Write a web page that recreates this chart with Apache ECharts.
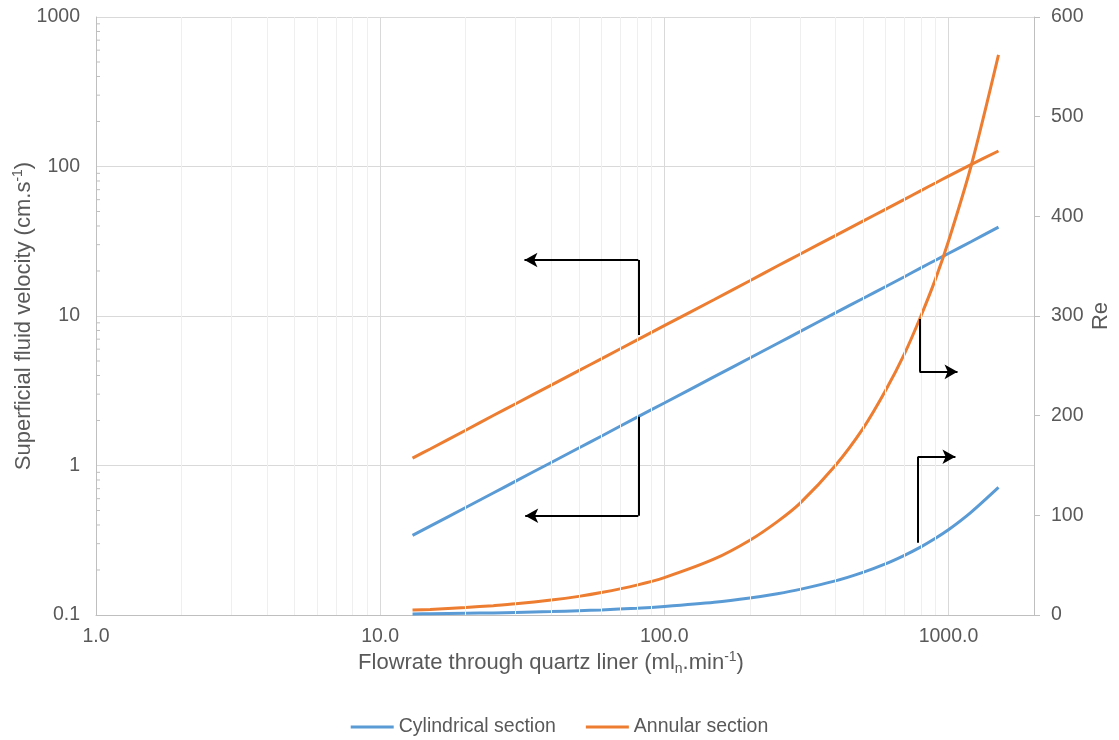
<!DOCTYPE html>
<html>
<head>
<meta charset="utf-8">
<style>
  html, body { margin: 0; padding: 0; background: #fff; }
  #main { width: 1119px; height: 740px; }
</style>
<script src="https://cdn.jsdelivr.net/npm/echarts@6/dist/echarts.min.js"></script>
</head>
<body>
<div id="main"></div>
<script>
// flowrate (ml_n/min)
var flowrate = [13, 15, 20, 25, 30, 40, 50, 60, 80, 100, 150, 200, 250, 300, 400, 500, 600, 700, 800, 900, 1000, 1200, 1500];
// superficial velocity (cm/s), left log axis
var velCyl = [0.341, 0.393, 0.524, 0.655, 0.786, 1.048, 1.31, 1.57, 2.10, 2.62, 3.93, 5.24, 6.55, 7.86, 10.5, 13.1, 15.7, 18.3, 21.0, 23.6, 26.2, 31.4, 39.3];
var velAnn = [1.12, 1.29, 1.72, 2.16, 2.59, 3.45, 4.31, 5.17, 6.90, 8.62, 12.9, 17.2, 21.6, 25.9, 34.5, 43.1, 51.7, 60.3, 69.0, 77.6, 86.2, 103, 127];
// Reynolds number, right axis
var reCyl = [1.1, 1.3, 1.7, 2.1, 2.6, 3.4, 4.3, 5.1, 6.8, 8.6, 12.8, 17.1, 21.4, 25.7, 34.2, 42.8, 51.3, 59.9, 68.4, 77, 85.5, 103, 128];
var reAnn = [4.9, 5.6, 7.5, 9.4, 11.2, 15, 18.7, 22.5, 30, 37.5, 56.2, 75, 93.7, 112, 150, 187, 225, 262, 300, 337, 375, 450, 562];

var seriesNames = ['Cylindrical section', 'Annular section'];
var reTicks = [0, 100, 200, 300, 400, 500, 600];

// minor grid / tick positions on the log axes
var minorX = [2, 3, 4, 5, 6, 7, 8, 9, 20, 30, 40, 50, 60, 70, 80, 90, 200, 300, 400, 500, 600, 700, 800, 900];
var minorY = [0.2, 0.3, 0.4, 0.5, 0.6, 0.7, 0.8, 0.9, 2, 3, 4, 5, 6, 7, 8, 9, 20, 30, 40, 50, 60, 70, 80, 90, 200, 300, 400, 500, 600, 700, 800, 900];

// annotation arrows: [start, corner, tip] in data units
var arrowsLeft = [
    [[81, 7.46], [81, 23.7], [32.2, 23.7]],
    [[81, 2.12], [81, 0.461], [32.4, 0.461]]
];
var arrowsRight = [
    [[791, 297], [791, 244], [1076, 244]],
    [[780, 72.5], [780, 158.8], [1058, 158.8]]
];

var blue = '#5B9BD5', orange = '#ED7D31', txt = '#595959';
var fs = 19.5;   // tick labels, legend
var nfs = 22;    // axis titles

function pairs(xs, ys) {
    return xs.map(function (x, i) { return [x, ys[i]]; });
}

function arrowLines(list) {
    var out = [];
    list.forEach(function (a) {
        out.push([{ coord: a[0], symbol: 'none' }, { coord: a[1], symbol: 'none' }]);
        out.push([{ coord: a[1], symbol: 'none' }, { coord: a[2], symbol: 'arrow', symbolSize: [11, 13] }]);
    });
    return out;
}

function curve(name, axis, color, data) {
    return {
        name: name, type: 'line', yAxisIndex: axis, color: color,
        showSymbol: false, symbol: 'none', z: 3, smooth: 0.3,
        lineStyle: { width: 3, color: color },
        data: data
    };
}

var chart = echarts.init(document.getElementById('main'));

var option = {
    animation: false,
    textStyle: { fontFamily: 'Liberation Sans, Arial, sans-serif', color: txt },
    grid: { left: 96, right: 85, top: 17, bottom: 125, outerBoundsMode: 'none', containLabel: false },
    legend: {
        top: 712,
        left: 'center',
        data: seriesNames,
        icon: 'rect',
        itemWidth: 43,
        itemHeight: 3,
        itemGap: 30,
        textStyle: { fontSize: fs, color: txt }
    },
    xAxis: {
        type: 'log',
        logBase: 10,
        min: 1,
        max: 2000,
        name: '{a|Flowrate through quartz liner (ml}{sub|n}{a|.min}{sup|-1}{a|)}',
        nameLocation: 'middle',
        nameGap: 35,
        nameMoveOverlap: false,
        nameTextStyle: {
            padding: [0, 28, 0, 0],
            rich: {
                a: { fontSize: nfs, color: txt, lineHeight: 26 },
                sub: { fontSize: 14, color: txt, verticalAlign: 'bottom', lineHeight: 26, padding: [9, 0, 0, 0] },
                sup: { fontSize: 14, color: txt, verticalAlign: 'top', lineHeight: 26, padding: [0, 0, 9, 0] }
            }
        },
        axisLine: { show: true, lineStyle: { color: '#bfbfbf', width: 1 } },
        axisTick: { show: false },
        axisLabel: {
            fontSize: fs, color: txt, margin: 12, showMaxLabel: false,
            formatter: function (v) { return v.toFixed(1); }
        },
        splitLine: { show: true, lineStyle: { color: '#d9d9d9', width: 1 } }
    },
    yAxis: [
        {
            type: 'log',
            logBase: 10,
            min: 0.1,
            max: 1000,
            name: '{a|Superficial fluid velocity (cm.s}{sup|-1}{a|)}',
            nameLocation: 'middle',
            nameGap: 59,
            nameRotate: 90,
            nameMoveOverlap: false,
            nameTextStyle: {
                rich: {
                    a: { fontSize: nfs, color: txt, lineHeight: 26 },
                    sup: { fontSize: 14, color: txt, verticalAlign: 'top', lineHeight: 26, padding: [0, 0, 9, 0] }
                }
            },
            axisLine: { show: true, lineStyle: { color: '#bfbfbf', width: 1 } },
            axisTick: { show: false },
            axisLabel: {
                fontSize: fs, color: txt, margin: 16,
                formatter: function (v) { return v < 1 ? v.toFixed(1) : String(Math.round(v)); }
            },
            splitLine: { show: true, lineStyle: { color: '#d9d9d9', width: 1 } }
        },
        {
            type: 'value',
            min: reTicks[0],
            max: reTicks[reTicks.length - 1],
            interval: 100,
            name: 'Re',
            nameLocation: 'middle',
            nameGap: 56,
            nameRotate: 90,
            nameMoveOverlap: false,
            nameTextStyle: { fontSize: nfs, color: txt },
            axisLine: { show: true, lineStyle: { color: '#bfbfbf', width: 1 } },
            axisTick: { show: true, length: 6, lineStyle: { color: '#bfbfbf' } },
            axisLabel: { fontSize: fs, color: txt, margin: 17 },
            splitLine: { show: false }
        }
    ],
    series: [
        {
            name: 'minor-grid',
            type: 'line',
            data: [],
            z: 1,
            silent: true,
            markLine: {
                silent: true,
                symbol: 'none',
                label: { show: false },
                lineStyle: { color: '#efefef', width: 1, type: 'solid' },
                data: minorX.map(function (v) { return { xAxis: v }; })
            }
        },
        {
            name: 'minor-ticks',
            type: 'custom',
            xAxisIndex: 0,
            yAxisIndex: 0,
            silent: true,
            clip: false,
            data: minorY.map(function (v) { return [1, v]; }),
            renderItem: function (params, api) {
                var p = api.coord([api.value(0), api.value(1)]);
                return {
                    type: 'line',
                    shape: { x1: p[0], y1: p[1], x2: p[0] + 4, y2: p[1] },
                    style: { stroke: '#bfbfbf', lineWidth: 1 }
                };
            }
        },
        curve(seriesNames[0], 0, blue, pairs(flowrate, velCyl)),
        curve(seriesNames[1], 0, orange, pairs(flowrate, velAnn)),
        curve(seriesNames[0], 1, blue, pairs(flowrate, reCyl)),
        curve(seriesNames[1], 1, orange, pairs(flowrate, reAnn)),
        {
            name: 'arrows-left', type: 'line', yAxisIndex: 0, data: [], z: 4,
            markLine: {
                silent: true, animation: false,
                label: { show: false },
                lineStyle: { color: '#000', width: 2, type: 'solid' },
                emphasis: { disabled: true },
                data: arrowLines(arrowsLeft)
            }
        },
        {
            name: 'arrows-right', type: 'line', yAxisIndex: 1, data: [], z: 4,
            markLine: {
                silent: true, animation: false,
                label: { show: false },
                lineStyle: { color: '#000', width: 2, type: 'solid' },
                emphasis: { disabled: true },
                data: arrowLines(arrowsRight)
            }
        }
    ]
};

chart.setOption(option);
</script>
</body>
</html>
